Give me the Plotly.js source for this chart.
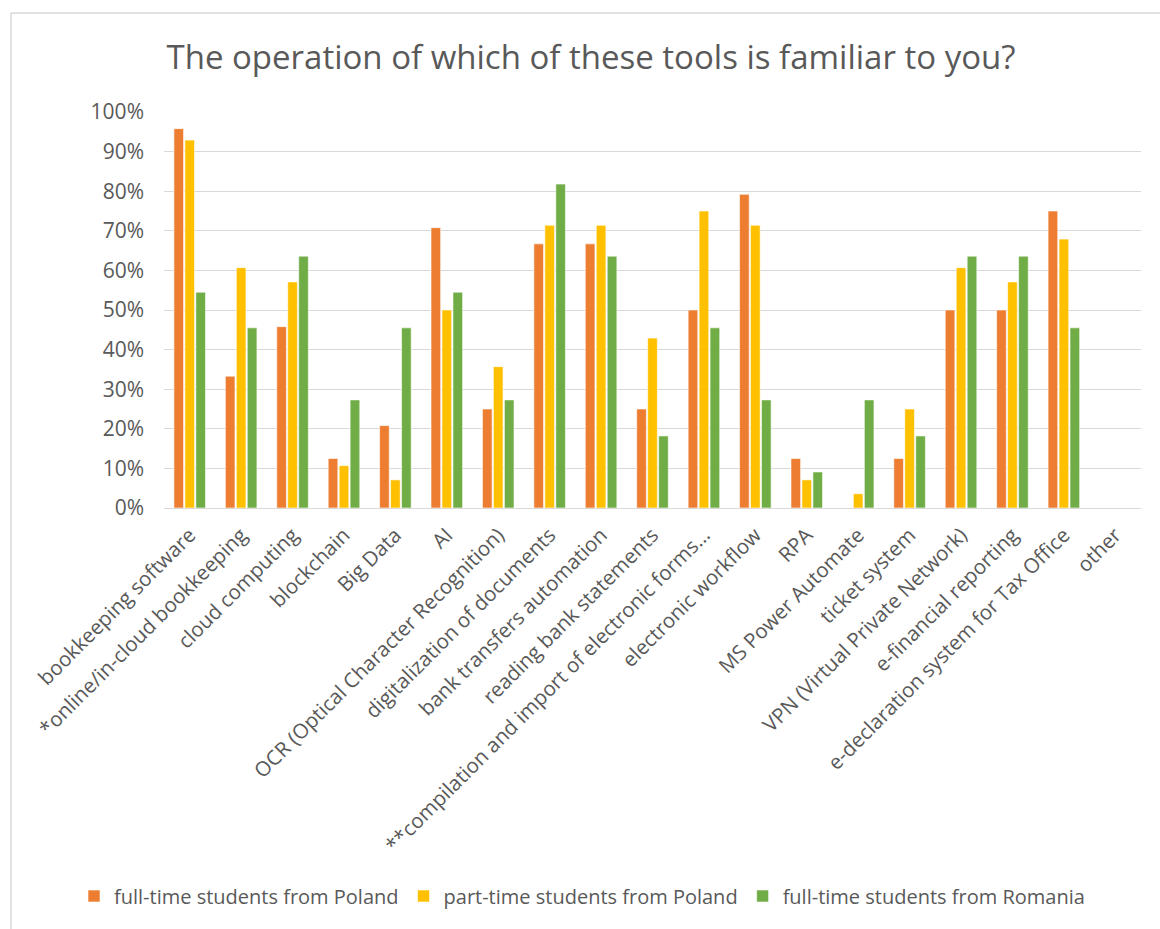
<!DOCTYPE html>
<html>
<head>
<meta charset="utf-8">
<script src="https://cdn.plot.ly/plotly-3.0.1.min.js"></script>
<style>html,body{margin:0;padding:0;background:#fff;}#chart{width:1160px;height:929px;}</style>
</head>
<body>
<div id="chart"></div>
<script>
const categories = [
  "bookkeeping software",
  "*online/in-cloud bookkeeping",
  "cloud computing",
  "blockchain",
  "Big Data",
  "AI",
  "OCR (Optical Character Recognition)",
  "digitalization of documents",
  "bank transfers automation",
  "reading bank statements",
  "**compilation and import of electronic forms…",
  "electronic workflow",
  "RPA",
  "MS Power Automate",
  "ticket system",
  "VPN (Virtual Private Network)",
  "e-financial reporting",
  "e-declaration system for Tax Office",
  "other"
];
const seriesNames = ["full-time students from Poland", "part-time students from Poland", "full-time students from Romania"];
const fullTimePoland = [0.958, 0.333, 0.458, 0.125, 0.208, 0.708, 0.25, 0.667, 0.667, 0.25, 0.50, 0.792, 0.125, 0, 0.125, 0.50, 0.50, 0.75, 0];
const partTimePoland = [0.929, 0.607, 0.571, 0.107, 0.071, 0.50, 0.357, 0.714, 0.714, 0.429, 0.75, 0.714, 0.071, 0.036, 0.25, 0.607, 0.571, 0.679, 0];
const fullTimeRomania = [0.545, 0.455, 0.636, 0.273, 0.455, 0.545, 0.273, 0.818, 0.636, 0.182, 0.455, 0.273, 0.091, 0.273, 0.182, 0.636, 0.636, 0.455, 0];
const colors = ["#ED7D31", "#FFC000", "#70AD47"];
const yTickVals = [0, 0.1, 0.2, 0.3, 0.4, 0.5, 0.6, 0.7, 0.8, 0.9, 1.0];
const yTickText = ["0%", "10%", "20%", "30%", "40%", "50%", "60%", "70%", "80%", "90%", "100%"];

const W = 1160, H = 929;
const M = {l: 164, r: 19, t: 112, b: 421};
const pw = W - M.l - M.r, ph = H - M.t - M.b;
const px = x => (x - M.l) / pw;
const py = y => (H - M.b - y) / ph;

const allSeries = [fullTimePoland, partTimePoland, fullTimeRomania];
const traces = allSeries.map((vals, i) => ({
  type: "bar",
  name: seriesNames[i],
  x: categories,
  y: vals,
  marker: {color: colors[i], line: {color: "#ffffff", width: 0.6}},
  hoverinfo: "x+y+name"
}));

const font = "'Open Sans', 'Noto Sans', sans-serif";
const layout = {
  width: W, height: H,
  margin: M,
  paper_bgcolor: "#ffffff",
  plot_bgcolor: "#ffffff",
  font: {family: font, color: "#595959", size: 20},
  title: {text: "The operation of which of these tools is familiar to you?", font: {size: 33, color: "#595959", family: font}, x: px(591), xanchor: "center", xref: "paper", y: 1 - 57 / H, yanchor: "middle"},
  barmode: "group",
  bargap: 0.36,
  bargroupgap: 0.12,
  showlegend: true,
  legend: {orientation: "h", x: px(74), xanchor: "left", y: py(896), yanchor: "middle", font: {size: 20, color: "#595959"}, itemwidth: 30, traceorder: "normal"},
  xaxis: {
    type: "category",
    tickangle: -45,
    tickfont: {size: 20.5, color: "#595959"},
    ticklabelstandoff: 6,
    showgrid: false,
    showline: true, linecolor: "#d9d9d9", linewidth: 1,
    ticks: "",
    automargin: false
  },
  yaxis: {
    range: [0, 1.0],
    tickvals: yTickVals,
    ticktext: yTickText,
    tickfont: {size: 21, color: "#595959"},
    ticklabelstandoff: 19,
    showgrid: true, gridcolor: "#d9d9d9", gridwidth: 1,
    zeroline: false,
    showline: false,
    ticks: "",
    automargin: false
  },
  shapes: [
    {type: "line", xref: "paper", yref: "paper", x0: px(11), x1: px(1160), y0: py(13), y1: py(13), line: {color: "#d9d9d9", width: 1.5}},
    {type: "line", xref: "paper", yref: "paper", x0: px(11), x1: px(11), y0: py(13), y1: py(929), line: {color: "#d9d9d9", width: 1.5}}
  ]
};

Plotly.newPlot("chart", traces, layout, {displayModeBar: false, staticPlot: true});
</script>
</body>
</html>
